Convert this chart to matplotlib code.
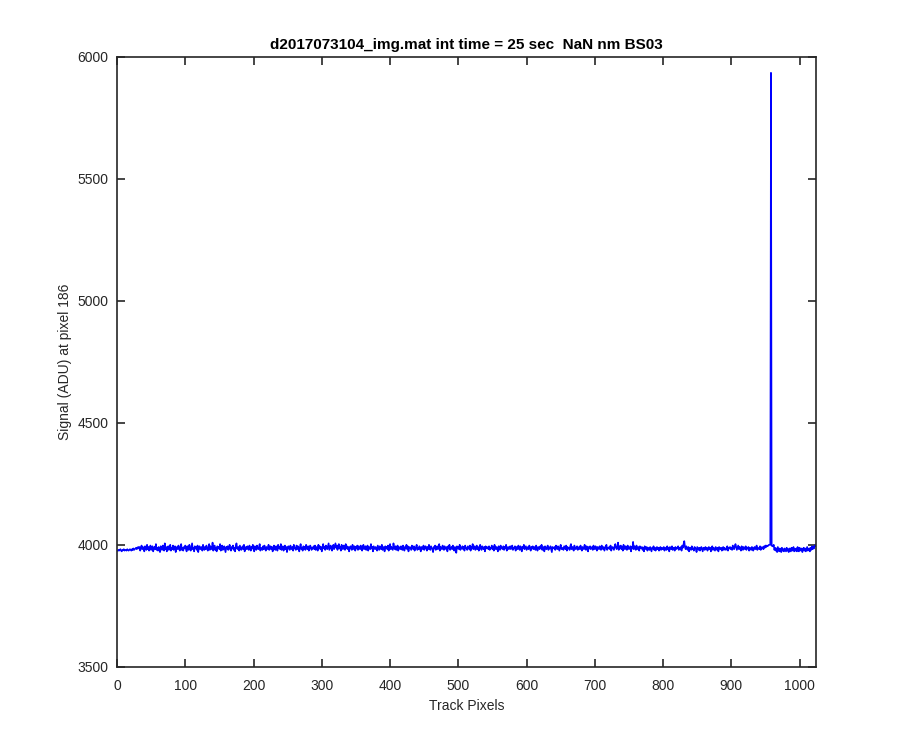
import matplotlib
matplotlib.use("Agg")
import matplotlib.pyplot as plt
import numpy as np

plt.rcParams['font.family'] = ['Liberation Sans', 'DejaVu Sans']

title = "d2017073104_img.mat int time = 25 sec  NaN nm BS03"
xlabel = "Track Pixels"
ylabel = "Signal (ADU) at pixel 186"

baseline = 3985
adu_step = 3
# offsets from baseline in steps of 3 ADU (one per track pixel)
offsets_text = """
-3 -2 -3 -2 -1 -3 -4 -2 -2 -1 -3 -2 -2 -3 -1 -2 -3 -2 -1 -2 -3 -1 -2 0 -2 -1 0 1 -1 1 2 0
2 -3 1 4 -1 2 0 -4 3 1 -2 5 -1 2 -3 0 4 -2 1 3 -4 0 2 -1 6 -2 1 -3 2 0 -5 3
1 -2 4 0 -3 7 -1 2 -4 1 3 -2 0 5 -3 1 -1 4 -2 0 3 -5 1 2 -1 4 0 -3 2 6 -2 1
-3 2 0 4 -1 -4 3 1 -2 5 0 -3 2 7 -1 1 -4 3 0 2 -2 4 -5 1 3 -1 0 2 -3 5 1 -2
2 -1 4 0 -3 1 6 -2 3 0 -1 8 -3 2 4 -2 1 -4 3 0 2 -1 6 -3 1 4 -2 0 3 -1 -5 2
0 3 -2 1 5 -1 -3 2 0 4 -2 1 -4 3 7 0 -1 2 -3 4 1 -2 0 3 -1 5 -4 1 2 -1 3 0
-2 4 1 -3 2 0 5 -1 -4 3 1 -2 4 0 -1 2 6 -3 1 0 -2 3 -1 4 0 -3 2 1 -1 5 -2 0
3 -1 2 -4 1 4 0 -2 3 1 -3 5 0 2 -1 6 -2 1 3 -3 0 4 -1 2 -5 1 3 0 -2 4 1 -1
2 -3 5 0 1 -2 4 -1 3 0 -4 2 6 -1 1 -3 3 0 2 -2 5 1 -1 3 -3 0 4 2 -2 1 0 3
-1 4 -2 2 1 -3 5 0 3 -1 2 -4 1 6 0 2 -2 4 1 -1 3 7 -2 1 4 0 -3 2 5 -1 3 7
1 4 -2 3 6 0 2 -3 5 1 -1 4 2 -2 6 0 3 -1 2 -4 1 3 0 -2 5 1 -1 3 -3 2 0 4
-2 3 1 -1 4 0 -3 2 5 -1 1 3 -2 0 4 -3 2 1 -1 6 0 2 -4 3 1 -1 2 0 -3 4 1 -2
3 0 -1 5 -2 2 1 -4 3 0 2 -1 4 -3 1 6 -1 2 0 -2 7 1 -1 3 -2 0 4 -3 2 1 -1 3
0 -2 4 1 -3 2 0 5 -1 3 -4 1 2 0 -2 4 1 -1 3 -3 0 2 5 -2 1 -1 3 0 -4 2 1 -1
4 -2 0 3 1 -3 2 -1 5 0 -2 3 1 -1 -5 2 0 4 -2 1 3 -1 0 6 -3 2 1 -1 4 0 -2 3
1 -1 2 -4 3 0 5 -2 1 2 -1 4 0 -3 2 1 -6 3 0 2 -1 5 -2 1 0 3 -1 2 -3 4 1 0
-2 3 1 -1 4 -3 2 0 6 -1 1 3 -2 0 4 -1 2 -3 1 5 0 -2 3 1 -1 2 -4 3 0 2 1 -1
3 -2 1 0 4 -1 2 -3 5 1 -1 2 0 -4 3 1 -2 4 0 1 -1 3 -2 2 0 5 -3 1 2 -1 0 3
-1 2 4 -2 1 0 3 -3 2 1 -1 4 0 -2 3 1 -4 2 0 5 -1 1 3 -2 0 2 -1 4 1 -3 2 0
3 -1 1 2 -2 4 0 -3 2 1 -1 3 0 5 -2 1 2 -4 3 0 -1 2 4 -2 1 0 3 -1 -5 2 1 0
2 -2 4 1 -1 3 0 -3 2 5 -1 1 0 -2 3 1 -1 4 -3 2 0 1 -2 3 6 -1 2 0 -3 4 1 -1
0 3 -2 1 2 -1 4 0 -3 2 1 -1 5 0 -2 3 1 -4 2 0 3 -1 1 2 -2 4 0 -1 3 1 -3 2
1 -1 3 0 -2 4 1 -1 2 -3 0 3 5 -2 1 0 2 -1 4 -3 1 2 0 -2 3 6 1 -1 2 8 -2 3
0 4 -1 2 -3 5 1 -1 3 0 -2 4 2 -1 1 3 -4 2 0 9 -1 3 1 -2 4 0 -1 2 -3 3 1 0
2 -2 1 -4 3 0 -1 2 -3 1 0 -2 2 -1 -4 1 0 3 -2 1 -3 0 2 -1 1 -3 0 2 -2 1 -1 0
2 -3 1 0 -2 3 -1 1 -4 2 0 -1 3 -2 1 0 -3 2 -1 1 0 3 -2 1 -1 2 -3 4 1 6 10 2
-1 3 0 -2 2 -4 1 0 -2 3 -1 0 -3 2 1 -1 -5 2 0 -2 1 -3 0 2 -1 -4 1 0 -2 2 -1 1
-3 0 2 -1 1 -4 0 3 -2 1 -1 -3 2 0 -2 1 -4 2 0 -1 1 -3 0 2 -2 1 -1 -2 0 3 -3 1
0 2 -1 1 -2 4 0 -1 3 6 2 -2 1 4 -1 2 0 -3 3 1 -2 2 0 -1 3 -2 1 0 2 -3 1 0
-2 2 1 -3 0 2 -1 1 4 -2 1 0 -1 3 -2 1 2 0 -1 3 1 4 2 4 3 4 5 5 5 650 4 3
3 5 -2 1 -3 0 -5 2 -1 -4 0 -2 -5 1 -3 -1 -4 0 -2 -4 1 -3 -1 -5 0 -2 -4 1 -3 -1 2 -4
-1 -3 0 -4 2 -2 -4 1 -1 -3 0 -5 -2 1 -3 0 -4 -1 2 -3 -1 0 -4 1 -2 3 -1 2 0 4 3 5
"""
signal = baseline + adu_step * np.array([int(v) for v in offsets_text.split()])
pixels = np.arange(1, len(signal) + 1)

xticks = list(range(0, 1001, 100))
yticks = list(range(3500, 6001, 500))

fig = plt.figure(figsize=(9, 7.5), dpi=100)
ax = fig.add_axes([0.13, 0.111, 0.7767, 0.813])
ax.plot(pixels, signal, color=(0, 0, 1), linewidth=1.2)

ax.set_xlim(0, 1024)
ax.set_ylim(3500, 6000)
ax.set_xticks(xticks)
ax.set_yticks(yticks)

dark = (0.15, 0.15, 0.15)
for sp in ax.spines.values():
    sp.set_color(dark)
    sp.set_linewidth(1.2)
ax.tick_params(direction='in', length=6, width=1.2, top=True, right=True,
               colors=dark, labelsize=10)
ax.tick_params(axis='x', pad=9)
ax.tick_params(axis='y', pad=6)
for lab in ax.get_xticklabels() + ax.get_yticklabels():
    lab.set_color(dark)

ax.set_title(title, fontsize=11, fontweight='bold', color='black', pad=6)
ax.set_xlabel(xlabel, fontsize=10, color=dark, labelpad=4)
ax.set_ylabel(ylabel, fontsize=10, color=dark, labelpad=4)

fig.savefig("out.png", dpi=100)
